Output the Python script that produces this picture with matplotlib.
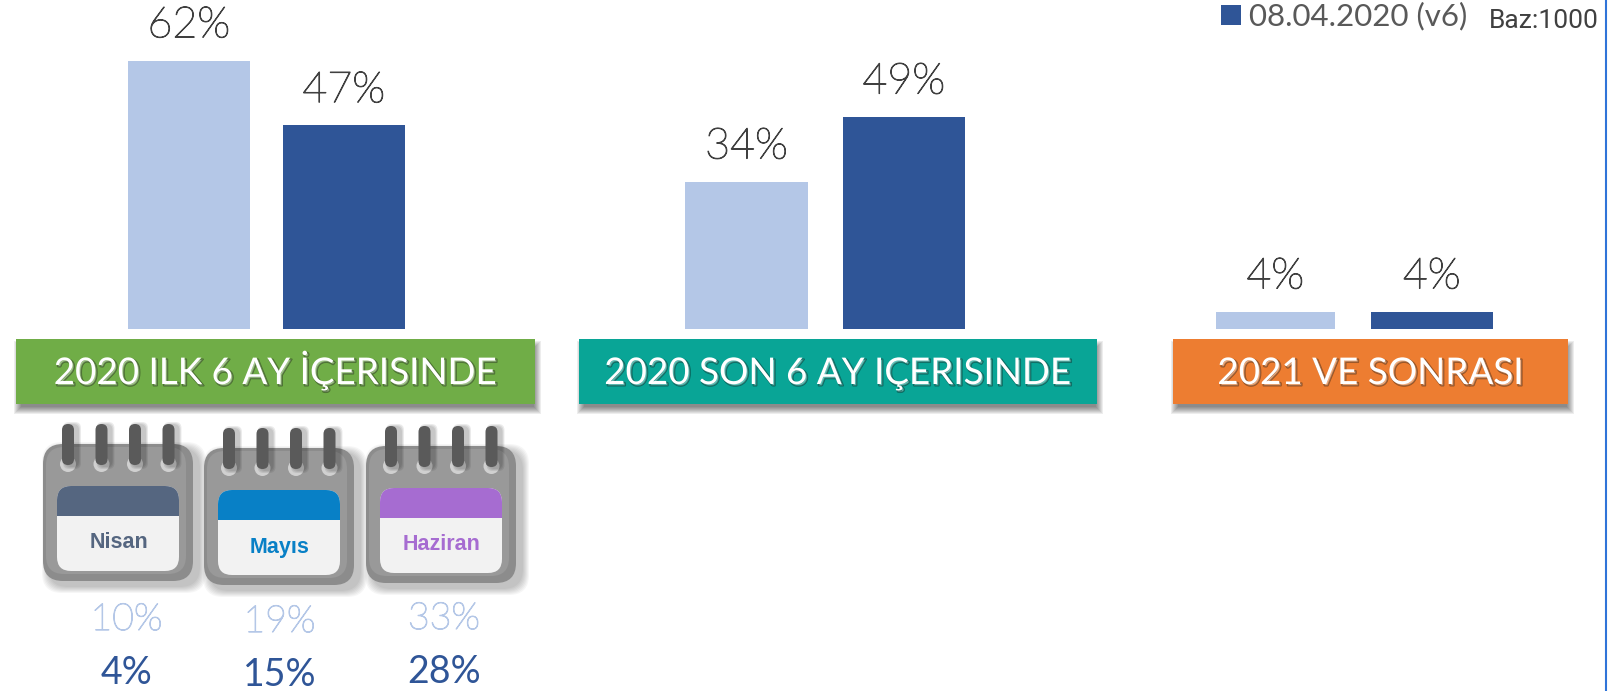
import matplotlib
matplotlib.use("Agg")
import matplotlib.pyplot as plt
import matplotlib.patheffects as pe
from matplotlib.patches import FancyBboxPatch, Rectangle, Circle

W, H = 1611, 691

# values
groups = ["2020 ILK 6 AY İÇERISINDE", "2020 SON 6 AY IÇERISINDE", "2021 VE SONRASI"]
old_values = [62, 34, 4]
new_values = [47, 49, 4]
months = ["Nisan", "Mayıs", "Haziran"]
month_old = [10, 19, 33]
month_new = [4, 15, 28]
legend_label = "08.04.2020 (v6)"
base_label = "Baz:1000"

LIGHT = "#b4c7e7"
DARK = "#2f5597"
GREY = "#404040"
group_colors = ["#70ad47", "#09a596", "#ed7d31"]
month_colors = ["#556680", "#0880c6", "#a66cd1"]

# layout, pixels
old_x = [(127.5, 250), (685, 808), (1215.5, 1335)]
new_x = [(282.5, 405), (842.5, 965), (1370.5, 1493)]
group_boxes = [(15.5, 519.5), (578.5, 518.5), (1173, 395)]
cal_x = [43, 204, 366]
cal_y = [444, 448, 446]
month_cx = [126.5, 279.5, 444]
month_old_y = [620, 622, 619]
month_new_y = [673, 675, 672]
FS = 31


def box_shadow(ax, x, y, w, h):
    # stacked transparent boxes instead of a real blur
    for g in range(4, -4, -1):
        ax.add_patch(Rectangle((x + 2 - g, y + 6 - g), w + 2 * g, h + 2 * g,
                               fc="black", ec="none", alpha=0.07, zorder=2))


def draw_calendar(ax, x, y, color, name):
    w, h = 150, 137
    for g in range(7, 0, -1):
        ax.add_patch(FancyBboxPatch((x + 6 - g, y + 5 - g), w + 2 * g, h + 2 * g,
                                    boxstyle="round,pad=0,rounding_size=20", fc="black", ec="none",
                                    alpha=0.035, zorder=3))
    ax.add_patch(FancyBboxPatch((x, y), w, h, boxstyle="round,pad=0,rounding_size=20",
                                fc="#8c8c8c", ec="none", zorder=4))
    ax.add_patch(FancyBboxPatch((x + 3, y + 3), w - 10, h - 10, boxstyle="round,pad=0,rounding_size=18",
                                fc="#999999", ec="none", zorder=4))
    # white page with coloured header
    px, py, pw, ph = x + 14, y + 42, 122, 85
    ax.add_patch(FancyBboxPatch((px, py), pw, ph, boxstyle="round,pad=0,rounding_size=14",
                                fc="#f2f2f2", ec="none", zorder=5))
    head = FancyBboxPatch((px, py), pw, ph, boxstyle="round,pad=0,rounding_size=14",
                          fc=color, ec="none", zorder=6)
    ax.add_patch(head)
    head.set_clip_path(Rectangle((px, py), pw, 30, transform=ax.transData))
    # rings
    for k in range(4):
        rx = x + 25 + k * 33.5
        ax.add_patch(Circle((rx, y + 20), 8, fc="#d0d0d0", ec="none", zorder=5))
        for g in (3, 2, 1):
            ax.add_patch(FancyBboxPatch((rx - 6 + 4 - g, y - 20 + 1 - g), 12 + 2 * g, 41 + 2 * g,
                                        boxstyle="round,pad=0,rounding_size=6",
                                        fc="black", ec="none", alpha=0.08, zorder=5))
        ax.add_patch(FancyBboxPatch((rx - 6, y - 20), 12, 41, boxstyle="round,pad=0,rounding_size=6",
                                    fc="#5a5a5a", ec="none", zorder=6))
    ax.text(x + 76, y + 99, name, color=color, fontsize=15.5, fontweight="bold",
            family="Liberation Sans", ha="center", va="center", zorder=7)


def thicker(color):
    # the light Lato cut comes out too thin, thicken it a bit
    return [pe.withStroke(linewidth=0.8, foreground=color)]


fig = plt.figure(figsize=(W / 100, H / 100), dpi=100)

# decoration axes in pixel coordinates
ax = fig.add_axes([0, 0, 1, 1])
ax.set_xlim(0, W)
ax.set_ylim(H, 0)
ax.axis("off")

# bar axes: percent scale, zero on the pixel line 329
base_y = 329
px_per_pct = 4.33
bx = fig.add_axes([0, 0, 1, 1], facecolor="none")
bx.set_xlim(0, W)
bx.set_ylim(-(H - base_y) / px_per_pct, base_y / px_per_pct)
bx.axis("off")

for i in range(3):
    for xs, val, col in ((old_x[i], old_values[i], LIGHT), (new_x[i], new_values[i], DARK)):
        bx.bar((xs[0] + xs[1]) / 2, val, width=xs[1] - xs[0], color=col, linewidth=0)
        bx.annotate(f"{val}%", ((xs[0] + xs[1]) / 2, val), xytext=(0, 11), textcoords="offset points",
                    ha="center", va="bottom", fontsize=FS, color=GREY, family="Lato", fontweight="light",
                    path_effects=thicker(GREY))

# group header boxes
for i, (x0, w) in enumerate(group_boxes):
    y0, h = 339, 65
    box_shadow(ax, x0, y0, w, h)
    ax.add_patch(Rectangle((x0, y0), w, h, fc=group_colors[i], ec="none", zorder=3))
    ax.text(x0 + w / 2, 384, groups[i], color="white", fontsize=26.5, family="Lato",
            ha="center", va="baseline", zorder=4,
            path_effects=[pe.Stroke(linewidth=1.2, foreground="black", alpha=0.35, offset=(1.2, -1.2)),
                          pe.Normal()])

# month calendars and their numbers
for i in range(3):
    draw_calendar(ax, cal_x[i], cal_y[i], month_colors[i], months[i])
    ax.text(month_cx[i], month_old_y[i], f"{month_old[i]}%", color=LIGHT, fontsize=27,
            family="Lato", fontweight="light", ha="center", va="center", zorder=4,
            path_effects=thicker(LIGHT))
    ax.text(month_cx[i], month_new_y[i], f"{month_new[i]}%", color=DARK, fontsize=27,
            family="Lato", ha="center", va="center", zorder=4)

# legend, top right
ax.add_patch(Rectangle((1221, 5), 20, 20, fc=DARK, ec="none"))
ax.text(1249, 16, legend_label, color="#595959", fontsize=22.5, family="Lato", ha="left", va="center")
ax.text(1489, 21, base_label, color=GREY, fontsize=19, family="Roboto", ha="left", va="center")
ax.plot([1605.5, 1605.5], [0, 691], color="#2f74d8", lw=1.5)

fig.savefig("out.png", dpi=100)
